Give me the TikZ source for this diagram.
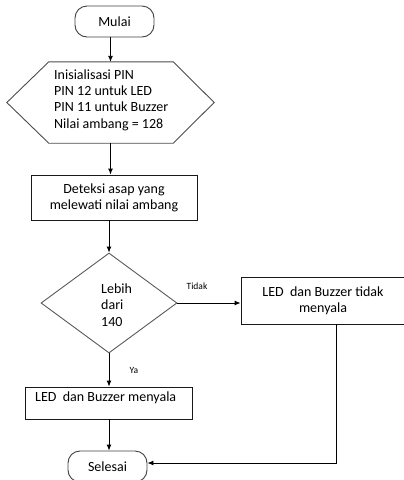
\documentclass[tikz,border=0pt]{standalone}
\usepackage{fontspec}
\setmainfont{Carlito}
\usetikzlibrary{shapes.geometric,arrows.meta}
\begin{document}
\begin{tikzpicture}[x=1pt,y=-1pt,
  every node/.style={font=\fontsize{14}{16.3}\selectfont, inner sep=0pt},
  term/.style={draw=black!75, line width=0.9pt, rounded corners=12pt, minimum width=79pt, minimum height=31pt},
  proc/.style={draw=black!90, line width=0.9pt},
  arr/.style={-{Latex[length=6pt,width=5pt]}, line width=0.9pt},
  lbl/.style={font=\fontsize{9.5}{11}\selectfont}]
\useasboundingbox (0,0) rectangle (404,480);
% nodes
\node[term] (mulai) at (114.5,21.5) {Mulai};
\node[minimum width=207pt, minimum height=81pt] (init) at (110.5,102.5) {};
\draw[draw=black!70, line width=0.9pt] (init.west) -- ([xshift=42pt]init.north west) -- ([xshift=-41pt]init.north east) -- (init.east) -- ([xshift=-41pt]init.south east) -- ([xshift=42pt]init.south west) -- cycle;
\node[anchor=west, align=left] (inittext) at (54,100) {Inisialisasi PIN\\PIN 12 untuk LED\\PIN 11 untuk Buzzer\\Nilai ambang = 128};
\node[proc, minimum width=166pt, minimum height=45pt, align=center] (det) at (114,197.5) {Deteksi asap yang\\melewati nilai ambang};
\node[diamond, draw=black!65, line width=0.9pt, minimum width=136pt, minimum height=100pt] (dec) at (109,303) {};
\node[anchor=west, align=left] (dectext) at (101,305) {Lebih\\dari\\140};
\node[proc, minimum width=164pt, minimum height=47pt, align=center] (tidak) at (323,300.5) {LED\ \ dan Buzzer tidak\\menyala};
\node[proc, minimum width=167pt, minimum height=32pt] (ya) at (108.5,403) {};
\node[anchor=west] (yatext) at (35,398) {LED\ \ dan Buzzer menyala};
\node[term] (selesai) at (107.5,466.5) {Selesai};
\node[lbl] (tlbl) at (197,286) {Tidak};
\node[lbl] (ylbl) at (134,370) {Ya};
\coordinate (corner) at (336,463);
% connectors
\draw[arr] (mulai.south -| init.north) -- (init.north);
\draw[arr] (init.south) -- (init.south |- det.north);
\draw[arr] (dec.north |- det.south) -- (dec.north);
\draw[arr] (dec.east) -- (dec.east -| tidak.west);
\draw[arr] (dec.south) -- (dec.south |- ya.north);
\draw[arr] (dec.south |- ya.south) -- (dec.south |- selesai.north);
\draw[arr] (tidak.south -| corner) -- (corner) -- (corner -| selesai.east);
\end{tikzpicture}
\end{document}
